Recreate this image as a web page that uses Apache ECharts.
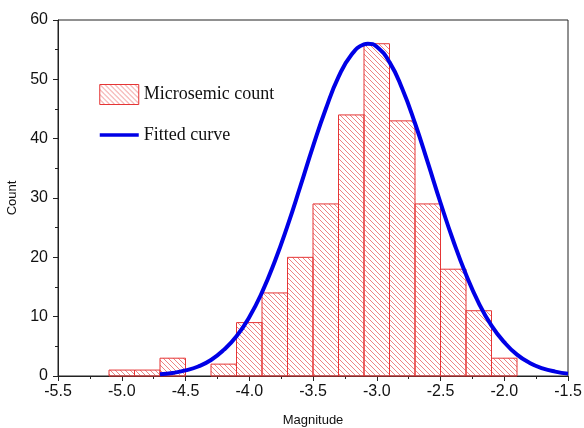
<!DOCTYPE html>
<html>
<head>
<meta charset="utf-8">
<title>Magnitude histogram</title>
<script src="https://cdn.jsdelivr.net/npm/echarts@6/dist/echarts.min.js"></script>
<style>
  html, body { margin: 0; padding: 0; background: #fff; }
  #chart { width: 584px; height: 428px; }
</style>
</head>
<body>
<div id="chart"></div>
<script>
// histogram bins (left edge of each bin) and counts
var binStarts = [-5.1, -4.9, -4.7, -4.3, -4.1, -3.9, -3.7, -3.5, -3.3, -3.1, -2.9, -2.7, -2.5, -2.3, -2.1];
var binWidth = 0.2;
var counts = [1, 1, 3, 2, 9, 14, 20, 29, 44, 56, 43, 29, 18, 11, 3];

// fitted curve
var curveX = [-4.7, -4.6, -4.5, -4.4, -4.3, -4.2, -4.1, -4.0, -3.9, -3.8, -3.7, -3.6, -3.5, -3.4, -3.3, -3.2, -3.1, -3.07,
              -3.0, -2.9, -2.8, -2.7, -2.6, -2.5, -2.4, -2.3, -2.2, -2.1, -2.0, -1.9, -1.8, -1.7, -1.6, -1.5];
var curveY = [0.28, 0.52, 0.94, 1.6, 2.7, 4.4, 6.7, 9.9, 14.1, 19.3, 25.3, 31.9, 38.7, 45.0, 50.4, 54.1, 55.9, 56.0,
              55.5, 52.9, 48.4, 42.6, 36.0, 29.2, 22.8, 17.1, 12.3, 8.5, 5.7, 3.6, 2.2, 1.3, 0.74, 0.40];

var seriesNames = ['Microsemic count', 'Fitted curve'];

// hatch pattern  \\\\
var hatch = document.createElement('canvas');
hatch.width = 5;
hatch.height = 5;
var hc = hatch.getContext('2d');
hc.strokeStyle = 'rgba(232,90,90,0.75)';
hc.lineWidth = 1;
hc.beginPath();
hc.moveTo(-1, -1); hc.lineTo(6, 6);
hc.moveTo(-1, 4); hc.lineTo(1, 6);
hc.moveTo(4, -1); hc.lineTo(6, 1);
hc.stroke();
var hatchFill = { image: hatch, repeat: 'repeat' };

var binData = [];
for (var i = 0; i < binStarts.length; i++) {
  binData.push([binStarts[i], binStarts[i] + binWidth, counts[i]]);
}
var curveData = [];
for (var j = 0; j < curveX.length; j++) {
  curveData.push([curveX[j], curveY[j]]);
}

var myChart = echarts.init(document.getElementById('chart'));

var option = {
  animation: false,
  backgroundColor: '#fff',
  grid: {
    left: 58, right: 16, top: 20, bottom: 52,
    containLabel: false,
    outerBoundsMode: 'none',
    show: true, borderColor: '#222', borderWidth: 1
  },
  legend: {
    orient: 'vertical',
    left: 98, top: 84,
    padding: 0,
    itemWidth: 39, itemHeight: 20,
    itemGap: 20,
    textStyle: { fontFamily: 'Liberation Serif', fontSize: 18, color: '#111', lineHeight: 20 },
    data: [
      { name: seriesNames[0], icon: 'rect',
        itemStyle: { color: hatchFill, borderColor: '#e53535', borderWidth: 1 } },
      { name: seriesNames[1], itemStyle: { opacity: 0 }, lineStyle: { width: 3.5, color: '#0000e6' } }
    ]
  },
  xAxis: {
    type: 'value',
    min: -5.5, max: -1.5, interval: 0.5,
    name: 'Magnitude',
    nameLocation: 'middle',
    nameGap: 38,
    nameTextStyle: { fontFamily: 'Liberation Sans', fontSize: 13, color: '#111' },
    axisLine: { lineStyle: { color: '#222', width: 1 } },
    axisTick: { inside: false, length: 5, lineStyle: { color: '#222' } },
    minorTick: { show: true, splitNumber: 2, length: 3, lineStyle: { color: '#222' } },
    axisLabel: {
      margin: 8,
      fontFamily: 'Liberation Sans', fontSize: 16, color: '#111',
      formatter: function (v) { return v.toFixed(1); }
    },
    splitLine: { show: false }
  },
  yAxis: {
    type: 'value',
    min: 0, max: 60, interval: 10,
    name: 'Count',
    nameLocation: 'middle',
    nameGap: 33,
    nameTextStyle: { fontFamily: 'Liberation Sans', fontSize: 13, color: '#111' },
    axisLine: { show: true, onZero: false, lineStyle: { color: '#222', width: 1 } },
    axisTick: { show: true, inside: false, length: 5, lineStyle: { color: '#222' } },
    minorTick: { show: true, splitNumber: 2, length: 3, lineStyle: { color: '#222' } },
    axisLabel: { margin: 10, fontFamily: 'Liberation Sans', fontSize: 16, color: '#111' },
    splitLine: { show: false }
  },
  series: [
    {
      name: seriesNames[0],
      type: 'custom',
      itemStyle: { color: hatchFill, borderColor: '#e53535', borderWidth: 1 },
      encode: { x: [0, 1], y: 2 },
      data: binData,
      renderItem: function (params, api) {
        var p0 = api.coord([api.value(0), api.value(2)]);
        var p1 = api.coord([api.value(1), 0]);
        return {
          type: 'rect',
          shape: { x: p0[0], y: p0[1], width: p1[0] - p0[0], height: p1[1] - p0[1] },
          style: { fill: hatchFill, stroke: '#e53535', lineWidth: 1 }
        };
      },
      z: 2
    },
    {
      name: seriesNames[1],
      type: 'line',
      data: curveData,
      smooth: true,
      symbol: 'none',
      lineStyle: { color: '#0000e6', width: 4 },
      itemStyle: { color: '#0000e6' },
      z: 3
    }
  ]
};

myChart.setOption(option);
</script>
</body>
</html>
